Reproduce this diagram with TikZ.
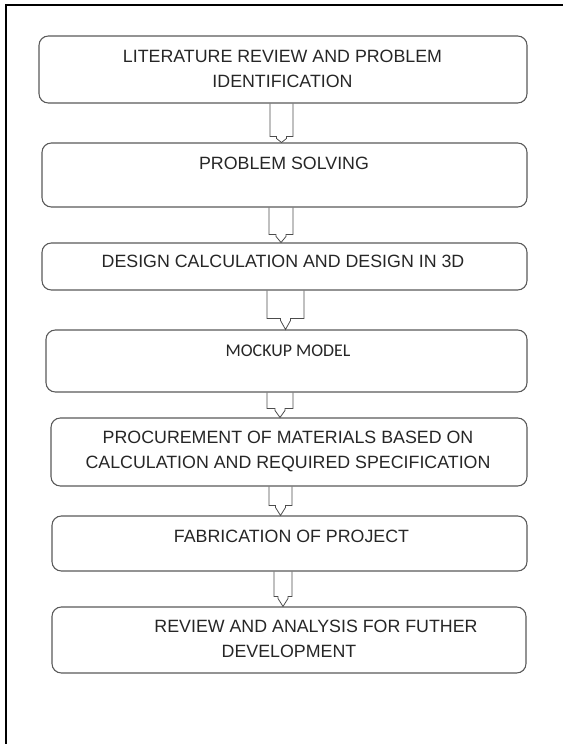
\documentclass[tikz,border=0pt]{standalone}
\usepackage{fontspec}
\setmainfont{Liberation Sans}
\newfontfamily\calibrifont{Carlito}
\usetikzlibrary{calc}

\tikzset{
  stagebox/.style={draw=black!65, line width=0.8pt, rounded corners=7pt, inner sep=0pt},
  stagetext/.style={inner sep=0pt, align=center, text=black!85, font=\fontsize{13.35}{18.75}\selectfont},
  stemline/.style={draw=black!70, line width=0.6pt, line join=miter},
}

% block arrow: from, to, stem left, stem right, head depth
\newcommand{\stagearrow}[5]{%
  \pgfmathsetmacro\tipx{(#3+#4)/2}
  \pgfmathsetmacro\wingl{\tipx-5}
  \pgfmathsetmacro\wingr{\tipx+5}
  \coordinate (ledge) at ($(#2.north)+(0,-#5)$);
  \coordinate (notch) at ($(#2.north)+(0,-#5+2)$);
  \draw[stemline] (#3,0 |- #1.south) -- (#3,0 |- ledge) -- (\wingl,0 |- ledge) -- (\wingl,0 |- notch)
    -- (\tipx,0 |- #2.north) -- (\wingr,0 |- notch) -- (\wingr,0 |- ledge) -- (#4,0 |- ledge) -- (#4,0 |- #1.south);
}

\begin{document}
\begin{tikzpicture}[x=0.75pt,y=0.75pt,yscale=-1,xscale=1]
        \useasboundingbox (0,0) rectangle (563,744);
        % page frame
        \begin{scope}
          \clip (0,0) rectangle (563,744);
          \draw[line width=1.5pt] (6,5) rectangle (640,820);
        \end{scope}

        % Boxes
        \node[stagebox, minimum width=366pt, minimum height=50.25pt] (b1) at (283,69.5) {};
        \node[stagebox, minimum width=363.75pt, minimum height=48pt] (b2) at (284.5,175) {};
        \node[stagebox, minimum width=363.75pt, minimum height=35.25pt] (b3) at (284.5,266.5) {};
        \node[stagebox, minimum width=360.75pt, minimum height=46.5pt] (b4) at (286.5,361) {};
        \node[stagebox, minimum width=357pt, minimum height=51pt] (b5) at (289,452) {};
        \node[stagebox, minimum width=356.25pt, minimum height=41.25pt] (b6) at (289.5,543.5) {};
        \node[stagebox, minimum width=355.5pt, minimum height=49.5pt] (b7) at (289,640) {};

        % Text Node
        \node[stagetext] (t1) at (282.5,68.5) {LITERATURE REVIEW AND PROBLEM\\IDENTIFICATION};
        % Text Node
        \node[stagetext] (t2) at (284,163) {PROBLEM SOLVING};
        % Text Node
        \node[stagetext] (t3) at (283,261) {DESIGN CALCULATION AND DESIGN IN 3D};
        % Text Node
        \node[stagetext, font=\calibrifont\fontsize{13.4}{16}\selectfont] (t4) at (288,351) {MOCKUP MODEL};
        % Text Node
        \node[stagetext] (t5) at (288,451) {PROCUREMENT OF MATERIALS BASED ON\\CALCULATION AND REQUIRED SPECIFICATION};
        % Text Node
        \node[stagetext] (t6) at (291.5,536) {FABRICATION OF PROJECT};
        % Text Node
        \node[stagetext] (t7) at (289,638.5) {\hspace*{40.5pt}REVIEW AND ANALYSIS FOR FUTHER\\DEVELOPMENT};

        % Arrows
        \stagearrow{b1}{b2}{270}{293}{6}
        \stagearrow{b2}{b3}{269}{293}{8}
        \stagearrow{b3}{b4}{267}{304}{11}
        \stagearrow{b4}{b5}{267}{293}{9}
        \stagearrow{b5}{b6}{269}{292}{10}
        \stagearrow{b6}{b7}{274}{292}{10}
\end{tikzpicture}
\end{document}
